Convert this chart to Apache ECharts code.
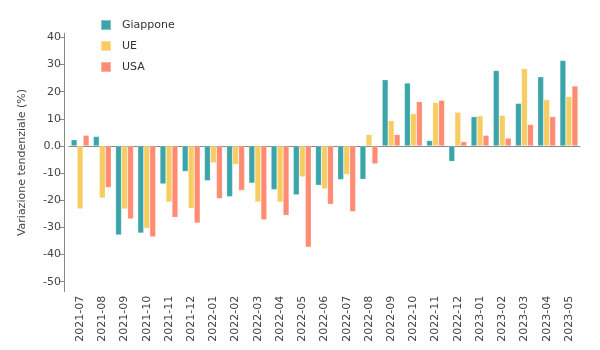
<!DOCTYPE html>
<html>
<head>
<meta charset="utf-8">
<script src="https://cdn.jsdelivr.net/npm/echarts@6/dist/echarts.min.js"></script>
<style>html,body{margin:0;padding:0;background:#fff}#c{width:600px;height:350px}</style>
</head>
<body>
<div id="c"></div>
<script>
const categories = ["2021-07","2021-08","2021-09","2021-10","2021-11","2021-12","2022-01","2022-02","2022-03","2022-04","2022-05","2022-06","2022-07","2022-08","2022-09","2022-10","2022-11","2022-12","2023-01","2023-02","2023-03","2023-04","2023-05"];
const giappone = [2.3,3.5,-32.8,-32.1,-14.0,-9.4,-12.8,-18.7,-13.7,-16.1,-18.0,-14.5,-12.4,-12.3,24.4,23.2,2.0,-5.7,10.8,27.8,15.7,25.5,31.5];
const ue = [-23.2,-19.2,-23.2,-30.4,-20.7,-23.0,-6.2,-6.8,-20.7,-20.7,-11.4,-15.8,-10.5,4.2,9.3,11.9,16.0,12.4,11.1,11.3,28.5,17.1,18.2];
const usa = [3.9,-15.3,-26.9,-33.5,-26.3,-28.4,-19.4,-16.4,-27.2,-25.6,-37.3,-21.5,-24.2,-6.6,4.2,16.3,16.8,1.6,3.9,2.9,7.9,10.8,22.1];
const yTicks = [-50,-40,-30,-20,-10,0,10,20,30,40];
const seriesNames = ["Giappone","UE","USA"];
const colors = ["#3ba5aa","#f7cd62","#ff8b72"];

const chart = echarts.init(document.getElementById('c'), null, {renderer:'canvas'});
const font = 'DejaVu Sans';
const mk = (name, data, i) => ({
  name, type:'bar', data, barWidth:6, barGap:'0%',
  itemStyle:{color:colors[i], borderColor:'rgba(255,255,255,0.35)', borderWidth:0.6},
  emphasis:{disabled:true}
});
chart.setOption({
  animation:false,
  textStyle:{fontFamily:font},
  legend:{
    orient:'vertical', left:95, top:14, itemWidth:10, itemHeight:10, itemGap:9,
    icon:'rect',
    textStyle:{fontFamily:font, fontSize:11, color:'#333', padding:[0,0,0,6]},
    data:seriesNames
  },
  grid:{left:69, right:20, top:33.3, bottom:58.3, containLabel:false},
  xAxis:{
    type:'category', data:categories,
    axisLine:{lineStyle:{color:'#888', width:1}},
    axisTick:{alignWithLabel:true, length:5, lineStyle:{color:'#888'}},
    axisLabel:{rotate:90, interval:0, fontSize:11, color:'#444', margin:4, fontFamily:font}
  },
  yAxis:{
    type:'value', min:-53.7, max:41.5, offset:5,
    name:'Variazione tendenziale (%)', nameLocation:'middle', nameGap:36,
    nameTextStyle:{fontSize:11, color:'#444', fontFamily:font},
    axisLine:{show:true, lineStyle:{color:'#888', width:1}},
    axisTick:{show:true, length:5, customValues:yTicks, lineStyle:{color:'#888'}},
    axisLabel:{customValues:yTicks, fontSize:11, color:'#444', margin:3, fontFamily:font,
      formatter:v => v===0 ? '0.0' : String(v)},
    splitLine:{show:false}
  },
  series:[mk(seriesNames[0], giappone, 0), mk(seriesNames[1], ue, 1), mk(seriesNames[2], usa, 2)]
});
</script>
</body>
</html>
